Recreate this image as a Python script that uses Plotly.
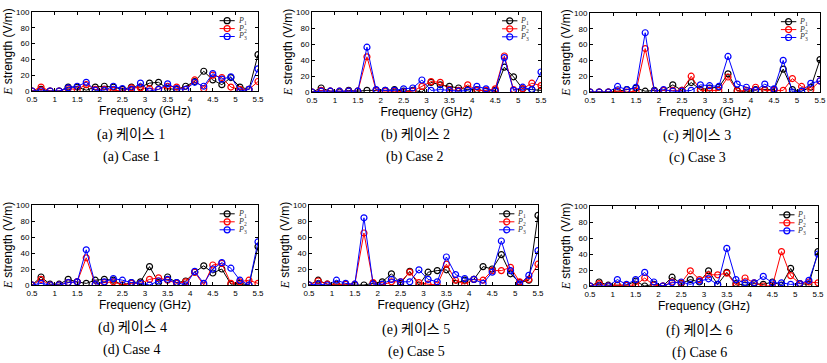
import plotly.graph_objects as go
from plotly.subplots import make_subplots

freq = [0.5, 0.7, 0.9, 1.1, 1.3, 1.5, 1.7, 1.9, 2.1, 2.3, 2.5, 2.7, 2.9,
        3.1, 3.3, 3.5, 3.7, 3.9, 4.1, 4.3, 4.5, 4.7, 4.9, 5.1, 5.3, 5.5]

case1_p1 = [0, 2, 0, 0, 5, 5, 1, 5, 6, 5, 2, 5, 5, 10, 11, 3, 2, 6, 12, 25, 14, 8, 17, 5, 2, 46]
case1_p2 = [0, 5, 0, 0, 3, 2, 8, 2, 2, 1, 0, 4, 4, 3, 2, 6, 5, 2, 14, 3, 20, 17, 5, 2, 2, 12]
case1_p3 = [0, 0, 0, 0, 4, 6, 11, 1, 1, 6, 3, 2, 10, 0, 2, 9, 3, 2, 11, 6, 22, 15, 18, 0, 2, 28]

case2_p1 = [0, 5, 1, 0, 2, 1, 2, 2, 2, 3, 1, 2, 0, 12, 9, 7, 5, 3, 3, 1, 2, 31, 19, 4, 3, 2]
case2_p2 = [0, 2, 1, 1, 1, 1, 44, 2, 1, 1, 0, 1, 7, 13, 12, 3, 2, 9, 2, 2, 4, 45, 3, 4, 11, 8]
case2_p3 = [0, 1, 1, 1, 1, 1, 56, 3, 2, 2, 4, 5, 15, 2, 3, 2, 1, 2, 7, 4, 1, 43, 2, 6, 3, 25]

case3_p1 = [0, 0, 0, 1, 3, 5, 1, 2, 2, 9, 2, 12, 3, 5, 6, 23, 2, 0, 3, 3, 3, 29, 3, 1, 6, 41]
case3_p2 = [0, 0, 0, 1, 0, 1, 55, 1, 2, 2, 2, 20, 2, 2, 2, 19, 1, 2, 6, 2, 2, 2, 17, 7, 3, 14]
case3_p3 = [0, 0, 0, 7, 3, 6, 75, 1, 3, 1, 1, 2, 9, 8, 7, 45, 10, 6, 2, 10, 4, 40, 0, 1, 11, 14]

case4_p1 = [0, 10, 1, 1, 7, 4, 2, 6, 7, 6, 0, 3, 4, 23, 3, 10, 3, 5, 16, 24, 15, 20, 1, 2, 0, 48]
case4_p2 = [0, 7, 0, 0, 3, 4, 34, 1, 3, 4, 0, 2, 2, 7, 9, 6, 2, 4, 16, 0, 25, 27, 2, 4, 6, 2]
case4_p3 = [0, 2, 0, 0, 3, 4, 44, 1, 4, 8, 6, 3, 2, 0, 5, 7, 3, 0, 17, 2, 20, 28, 21, 6, 0, 54]

case5_p1 = [0, 6, 1, 1, 1, 0, 0, 2, 4, 14, 2, 17, 0, 16, 18, 19, 2, 6, 7, 23, 20, 38, 14, 3, 6, 87]
case5_p2 = [0, 5, 1, 0, 1, 1, 65, 3, 0, 4, 4, 16, 3, 1, 0, 26, 6, 1, 7, 6, 18, 18, 22, 4, 7, 26]
case5_p3 = [0, 1, 0, 6, 2, 1, 84, 1, 1, 7, 4, 4, 19, 7, 4, 35, 13, 8, 7, 2, 16, 55, 18, 1, 12, 43]

case6_p1 = [0, 5, 1, 1, 1, 6, 0, 2, 0, 11, 3, 8, 5, 19, 2, 17, 3, 1, 3, 2, 5, 1, 22, 3, 2, 43]
case6_p2 = [0, 3, 0, 1, 1, 1, 10, 1, 0, 5, 4, 19, 8, 14, 14, 16, 1, 10, 4, 0, 0, 43, 13, 3, 5, 4]
case6_p3 = [0, 0, 0, 8, 2, 8, 17, 5, 0, 4, 5, 2, 6, 9, 2, 47, 8, 4, 4, 12, 4, 4, 2, 3, 7, 40]

cases = [
    (case1_p1, case1_p2, case1_p3),
    (case2_p1, case2_p2, case2_p3),
    (case3_p1, case3_p2, case3_p3),
    (case4_p1, case4_p2, case4_p3),
    (case5_p1, case5_p2, case5_p3),
    (case6_p1, case6_p2, case6_p3),
]
series_names = ["P1", "P2", "P3"]
series_labels = ["<i>P</i><sub>1</sub>", "<i>P</i><sub>2</sub>", "<i>P</i><sub>3</sub>"]
series_colors = ["#000000", "#ff0000", "#0000ff"]
letters = ["a", "b", "c", "d", "e", "f"]
x_ticks = [0.5, 1, 1.5, 2, 2.5, 3, 3.5, 4, 4.5, 5, 5.5]
x_tick_text = ["0.5", "1", "1.5", "2", "2.5", "3", "3.5", "4", "4.5", "5", "5.5"]
y_ticks = [0, 20, 40, 60, 80, 100]

W, H = 827, 363
# plot boxes in pixels: (left, right, top, bottom)
boxes = [
    (32, 258, 12, 91), (312, 541, 12, 92), (590, 820, 13, 92),
    (32, 258, 205, 285), (309, 538, 205, 285), (590, 818, 206, 286),
]
caption_x = [131, 415, 697, 132, 416, 699]
caption_y = [(135, 157), (135, 157), (136, 158), (328, 350), (330, 352), (331, 353)]

fig = make_subplots(rows=2, cols=3)

for i, data in enumerate(cases):
    r, c = i // 3 + 1, i % 3 + 1
    for vals, name, col in zip(data, series_names, series_colors):
        fig.add_trace(go.Scatter(
            x=freq, y=vals, mode="lines+markers", name=name, showlegend=False,
            line=dict(color=col, width=1),
            marker=dict(symbol="circle-open", size=6, color=col, line=dict(width=1.2, color=col)),
        ), row=r, col=c)

sans = "Liberation Sans, Arial, sans-serif"
serif = "Liberation Serif, Times New Roman, serif"

for i in range(6):
    l, rgt, t, b = boxes[i]
    ax = "" if i == 0 else str(i + 1)
    fig.layout["xaxis" + ax].update(
        domain=[l / W, rgt / W], range=[0.5, 5.5], tickvals=x_ticks, ticktext=x_tick_text,
        ticks="inside", ticklen=3, tickcolor="black", showline=True, linecolor="black",
        linewidth=1, mirror="ticks", showgrid=False, zeroline=False, automargin=False,
        tickfont=dict(family=sans, size=8, color="black"),
        title=dict(text="Frequency (GHz)", font=dict(family=sans, size=12, color="black"), standoff=2),
    )
    fig.layout["yaxis" + ax].update(
        domain=[1 - b / H, 1 - t / H], range=[0, 100], tickvals=y_ticks,
        ticks="inside", ticklen=3, tickcolor="black", showline=True, linecolor="black",
        linewidth=1, mirror="ticks", showgrid=False, zeroline=False, automargin=False,
        tickfont=dict(family=sans, size=8, color="black"),
        title=dict(text="<span style='font-family:Liberation Serif'><i>E</i></span> strength (V/m)",
                   font=dict(family=sans, size=12, color="black"), standoff=0),
    )
    xr = "x" + ax + " domain"
    yr = "y" + ax + " domain"
    for k, (lab, col) in enumerate(zip(series_labels, series_colors)):
        yy = 0.89 - 0.1 * k
        fig.add_shape(type="line", xref=xr, yref=yr, x0=0.83, x1=0.897, y0=yy, y1=yy,
                      line=dict(color=col, width=1))
        fig.add_shape(type="circle", xref=xr, yref=yr, xsizemode="pixel", ysizemode="pixel",
                      xanchor=0.8635, yanchor=yy, x0=-3, x1=3, y0=-3, y1=3,
                      line=dict(color=col, width=1.2))
        fig.add_annotation(xref=xr, yref=yr, x=0.905, y=yy, text=lab, showarrow=False,
                           xanchor="left", yanchor="middle", borderpad=0,
                           font=dict(family=serif, size=8, color="#333333"))
    ko = f"({letters[i]})\u00a0케이스\u00a0{i + 1}"
    en = f"({letters[i]})\u00a0Case\u00a0{i + 1}"
    fig.add_annotation(xref="paper", yref="paper", x=caption_x[i] / W, y=1 - caption_y[i][0] / H,
                       text=ko, showarrow=False, xanchor="center", yanchor="middle",
                       font=dict(family=serif + ", Noto Sans CJK KR", size=14, color="black"))
    fig.add_annotation(xref="paper", yref="paper", x=caption_x[i] / W, y=1 - caption_y[i][1] / H,
                       text=en, showarrow=False, xanchor="center", yanchor="middle",
                       font=dict(family=serif, size=14, color="black"))

fig.update_layout(width=W, height=H, margin=dict(l=0, r=0, t=0, b=0),
                  plot_bgcolor="white", paper_bgcolor="white", showlegend=False)

fig.write_html("out.html", config={"displayModeBar": False},
               post_script="document.body.style.margin='0px';")
